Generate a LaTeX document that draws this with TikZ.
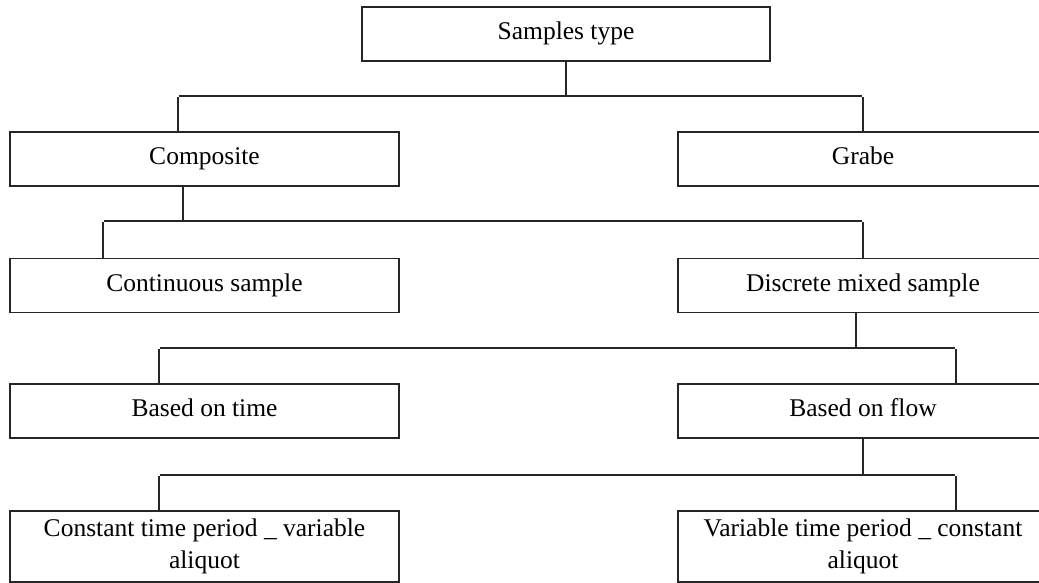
\documentclass[tikz,border=0pt]{standalone}
\usepackage{fontspec}
\setmainfont{Liberation Serif}
\usetikzlibrary{positioning}

\begin{document}
\begin{tikzpicture}[x=1pt,y=-1pt,line width=1.3pt,draw=black!85,
  empty/.style={inner sep=0,minimum size=0},
  frame/.style={rectangle,draw,inner sep=0,minimum width=389pt,minimum height=54pt,align=center,font=\fontsize{25.5}{32}\selectfont},
  box/.style={frame,text height=17pt,text depth=6pt},
  rbox/.style={box,minimum width=370pt},
  tall/.style={frame,minimum height=71pt},
  rtall/.style={tall,minimum width=370pt}]
  \clip (0,0) rectangle (1039,583);
  \node (type) [box,minimum width=408pt] at (566,34) {Samples type};
  \node (composite) [box] at (204.5,159) {Composite};
  \node (grabe) [rbox] at (863,159) {Grabe};
  \node (continuous) [box] at (204.5,285.5) {Continuous sample};
  \node (discrete) [rbox] at (863,285.5) {Discrete mixed sample};
  \node (time) [box] at (204.5,411) {Based on time};
  \node (flow) [rbox] at (863,411) {Based on flow};
  \node (constant) [tall] at (204.5,546.5) {Constant time period \_ variable\\aliquot};
  \node (variable) [rtall] at (863,546.5) {Variable time period \_ constant\\aliquot};
  % split points
  \node (split1) [empty] at (566,96) {};
  \node (split1 left) [empty] at (178,96) {};
  \node (split1 right) [empty] at (863,96) {};
  \node (split2) [empty] at (183,221) {};
  \node (split2 left) [empty] at (103,221) {};
  \node (split2 right) [empty] at (863,221) {};
  \node (split3) [empty] at (856,348) {};
  \node (split3 left) [empty] at (159,348) {};
  \node (split3 right) [empty] at (956,348) {};
  \node (split4) [empty] at (863,475) {};
  \node (split4 left) [empty] at (159,475) {};
  \node (split4 right) [empty] at (956,475) {};
  \draw (type) -- (split1);
  \draw (split1 left |- composite.north) -- (split1 left) -- (split1 right) -- (grabe);
  \draw (split2 |- composite.south) -- (split2);
  \draw (split2 left |- continuous.north) -- (split2 left) -- (split2 right) -- (discrete);
  \draw (split3 |- discrete.south) -- (split3);
  \draw (split3 left |- time.north) -- (split3 left) -- (split3 right) -- (split3 right |- flow.north);
  \draw (flow) -- (split4);
  \draw (split4 left |- constant.north) -- (split4 left) -- (split4 right) -- (split4 right |- variable.north);
\end{tikzpicture}
\end{document}
